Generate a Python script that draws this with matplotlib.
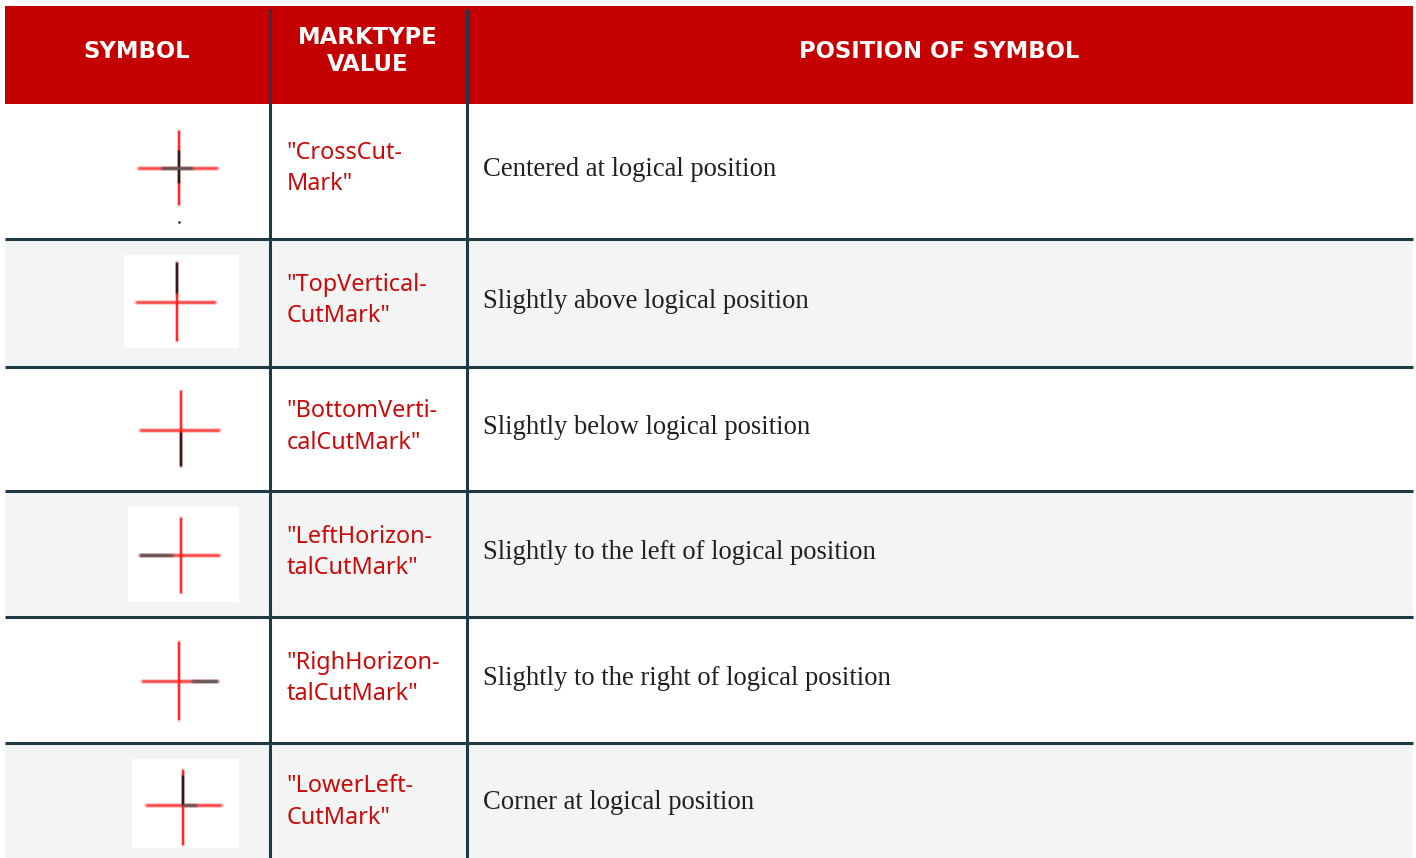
import matplotlib
matplotlib.use('Agg')
import matplotlib.pyplot as plt
from matplotlib.patches import Rectangle

headers = ['SYMBOL', 'MARKTYPE\nVALUE', 'POSITION OF SYMBOL']
marktypes = ['"CrossCut-\nMark"', '"TopVertical-\nCutMark"', '"BottomVerti-\ncalCutMark"',
             '"LeftHorizon-\ntalCutMark"', '"RighHorizon-\ntalCutMark"', '"LowerLeft-\nCutMark"']
positions = ['Centered at logical position', 'Slightly above logical position',
             'Slightly below logical position', 'Slightly to the left of logical position',
             'Slightly to the right of logical position', 'Corner at logical position']

# row edges, pixels
row_top = [104, 239, 367, 491, 617, 743]
row_bot = [239, 367, 491, 617, 743, 858]
row_text_y = [169.5, 301.5, 427.5, 552.5, 678.5, 802.5]
mark_y1 = [153, 285, 411, 537, 663, 786]
mark_y2 = [183.5, 316.5, 443, 568.5, 694.5, 817.5]

# cross: x centre, y top, y bottom, x left, x right, y of the bar
cross_x = [179, 177, 181, 181, 179, 183]
cross_top = [131, 263, 391, 518, 642, 770]
cross_bot = [205, 341, 466, 593, 720, 845]
cross_left = [138, 136, 140, 140, 142, 146]
cross_right = [217, 215, 219, 219, 217, 221]
cross_y = [168, 301.5, 429.5, 555, 681, 805]

# white boxes behind the shaded rows
boxes = {1: (124, 255, 239, 348), 3: (128, 507, 239, 602), 5: (132, 759, 239, 848)}

# dark parts of each symbol
dark_v = {0: (151, 183), 1: (263, 293), 2: (433, 466), 5: (776, 805)}
dark_h = {0: (162, 192), 3: (140, 172), 4: (192, 217), 5: (183, 196)}

RED = '#C80A0A'
DARK = '#1F3A45'
BAND = '#F3F5F5'

fig = plt.figure(figsize=(14.16, 8.58), dpi=100)
ax = fig.add_axes([0, 0, 1, 1])
ax.set_xlim(0, 1416)
ax.set_ylim(858, 0)
ax.axis('off')


def blurred(xs, ys, color, halo=0.3, lw=1.4):
    ax.plot(xs, ys, color=color, lw=lw + 1.5, alpha=halo, solid_capstyle='round', zorder=4)
    ax.plot(xs, ys, color=color, lw=lw, solid_capstyle='butt', zorder=4)


# header
ax.add_patch(Rectangle((5, 6), 1408, 98, color='#C40000', lw=0, zorder=1))
header_x = [137, 368, 939]
for x, h in zip(header_x, headers):
    ax.text(x, 51, h, color='white', ha='center', va='center',
            family='DejaVu Sans', weight='bold', size=16.4, linespacing=1.25, zorder=5)

for i in range(6):
    if i % 2 == 1:
        ax.add_patch(Rectangle((5, row_top[i]), 1408, row_bot[i] - row_top[i], color=BAND, lw=0, zorder=1))
    if i in boxes:
        x0, y0, x1, y1 = boxes[i]
        ax.add_patch(Rectangle((x0, y0), x1 - x0, y1 - y0, color='white', lw=0, zorder=2))

    # symbol
    blurred([cross_left[i], cross_right[i]], [cross_y[i], cross_y[i]], '#FF4A4A', 0.35, 1.8)
    blurred([cross_x[i], cross_x[i]], [cross_top[i], cross_bot[i]], '#FF1A1A', 0.3, 1.3)
    if i in dark_v:
        blurred([cross_x[i], cross_x[i]], dark_v[i], '#1C1C1C', 0.25, 1.3)
    if i in dark_h:
        blurred(dark_h[i], [cross_y[i], cross_y[i]], '#5A5A5A', 0.3, 1.8)

    # text cells
    a, b = marktypes[i].split('\n')
    ax.text(286.5, mark_y1[i], a, color=RED, family='Noto Sans', size=16.9, va='center', zorder=5)
    ax.text(286.5, mark_y2[i], b, color=RED, family='Noto Sans', size=16.9, va='center', zorder=5)
    ax.text(483, row_text_y[i], positions[i], color='#202020', family='Liberation Serif', size=19.2,
            va='center', zorder=5)

ax.plot([179], [222], marker='o', ms=1.8, mew=0, color='#222222', zorder=4)

# rules
for y in row_bot[:-1]:
    ax.plot([5, 1413], [y, y], color=DARK, lw=2.2, solid_capstyle='butt', zorder=3)
for x in [270, 467]:
    ax.plot([x, x], [9, 858], color=DARK, lw=2.2, solid_capstyle='butt', zorder=3)

fig.savefig('out.png', dpi=100, facecolor='white')
